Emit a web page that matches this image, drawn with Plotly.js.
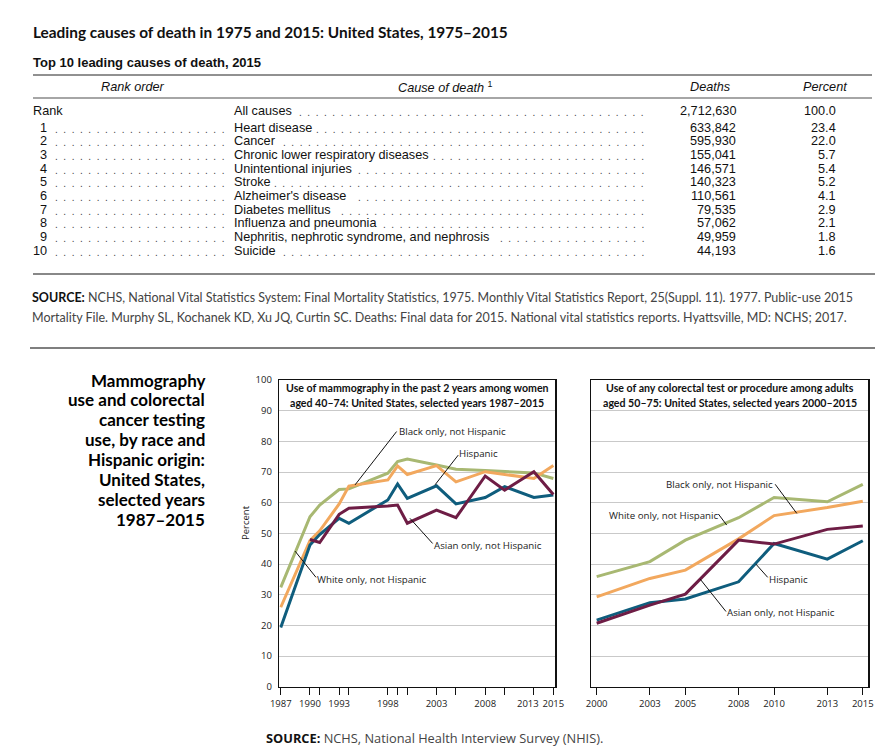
<!DOCTYPE html>
<html>
<head>
<meta charset="utf-8">
<script src="https://cdn.plot.ly/plotly-3.0.1.min.js"></script>
<style>html,body{margin:0;padding:0;background:#fff;}#chart{width:885px;height:750px;}</style>
</head>
<body>
<div id="chart"></div>
<script>
// ---------- DATA ----------
const rankNumbers = [1, 2, 3, 4, 5, 6, 7, 8, 9, 10];
const causes = ['Heart disease', 'Cancer', 'Chronic lower respiratory diseases', 'Unintentional injuries',
  'Stroke', "Alzheimer's disease", 'Diabetes mellitus', 'Influenza and pneumonia',
  'Nephritis, nephrotic syndrome, and nephrosis', 'Suicide'];
const deaths = [633842, 595930, 155041, 146571, 140323, 110561, 79535, 57062, 49959, 44193];
const percents = [23.4, 22.0, 5.7, 5.4, 5.2, 4.1, 2.9, 2.1, 1.8, 1.6];
const allCausesDeaths = 2712630;
const allCausesPercent = 100.0;

const mammoYears = [1987, 1990, 1991, 1993, 1994, 1998, 1999, 2000, 2003, 2005, 2008, 2010, 2013, 2015];
const mammoLabelYears = [1987, 1990, 1993, 1998, 2003, 2008, 2015];
const mammoShiftedLabelYears = [2013];
const mammoWhite = [32.4, 55.4, 59.2, 64.3, 64.5, 69.6, 73.4, 74.2, 72.3, 70.9, 70.5, 70.1, 69.7, 67.9];
const mammoBlack = [25.9, 47.6, 50.8, 59.6, 65.4, 67.4, 72.0, 69.2, 72.1, 66.8, 70.1, 69.2, 67.9, 72.1];
const mammoHispanic = [19.3, 46.2, 49.6, 54.9, 53.3, 60.9, 66.1, 61.4, 65.5, 59.6, 61.7, 65.2, 61.7, 62.5];
const mammoAsian = [null, 48.0, 47.0, 56.2, 58.2, 58.9, 59.2, 53.3, 57.6, 55.1, 68.7, 64.1, 70.1, 62.7];

const crcYears = [2000, 2003, 2005, 2008, 2010, 2013, 2015];
const crcWhite = [35.9, 40.8, 47.8, 55.1, 61.7, 60.3, 66.0];
const crcBlack = [29.3, 35.3, 38.0, 48.2, 55.8, 58.4, 60.5];
const crcHispanic = [21.7, 27.4, 28.6, 34.2, 46.7, 41.6, 47.6];
const crcAsian = [20.7, 26.6, 30.2, 47.8, 46.5, 51.3, 52.4];

const yTicks = [0, 10, 20, 30, 40, 50, 60, 70, 80, 90, 100];

// ---------- STYLE ----------
const W = 885, H = 750;
const px = x => x / W;
const py = y => 1 - y / H;
const HUM = "Lato, 'Open Sans', sans-serif";
const SANS = "'Liberation Sans', Arial, sans-serif";
const OPEN = "'Open Sans', sans-serif";
const C_WHITE = '#a8b872', C_BLACK = '#f2a85e', C_HISP = '#0f5d7d', C_ASIAN = '#6e1d45';
const TABLE_SIZE = 12.7;

const annotations = [];
const shapes = [];
function pa(x, y, text, o) {
  annotations.push(Object.assign({xref: 'paper', yref: 'paper', x: px(x), y: py(y), text: text,
    showarrow: false, xanchor: 'left', yanchor: 'middle', borderpad: 0, borderwidth: 0,
    font: {family: SANS, size: TABLE_SIZE, color: '#111'}}, o || {}));
}
function hline(y, x0, x1, color, width) {
  shapes.push({type: 'line', xref: 'paper', yref: 'paper', x0: px(x0), x1: px(x1), y0: py(y), y1: py(y),
    line: {color: color, width: width}});
}
// dot leaders: font 10px Liberation Sans, "." + 2 nbsp => 8.34 px per dot
const DOT_SIZE = 10, DOT_UNIT = 0.278 * DOT_SIZE;
function dots(n) { return Array(n).fill('.').join('\u00a0\u00a0'); }
const ctx = document.createElement('canvas').getContext('2d');
ctx.font = TABLE_SIZE + 'px "Liberation Sans"';
function leaderCount(textStart, text, rightEdge) {
  const end = textStart + ctx.measureText(text).width + 3;
  return Math.max(0, Math.floor(((rightEdge - end) / DOT_UNIT + 2) / 3));
}
const dotFont = {family: SANS, size: DOT_SIZE, color: '#444'};

// ---------- TOP TABLE ----------
pa(33, 32, '<b>Leading causes of death in 1975 and 2015: United States, 1975\u20132015</b>',
  {font: {family: HUM, size: 15.4, color: '#111'}});
pa(33, 62, '<b>Top 10 leading causes of death, 2015</b>', {font: {family: SANS, size: 13, color: '#111'}});
hline(75, 33, 872, '#222', 1);
pa(133, 87, '<i>Rank order</i>', {xanchor: 'center'});
pa(445, 87, '<i>Cause of death</i> <sup>1</sup>', {xanchor: 'center'});
pa(710, 87, '<i>Deaths</i>', {xanchor: 'center'});
pa(825, 87, '<i>Percent</i>', {xanchor: 'center'});
hline(98, 33, 872, '#888', 1.5);

const rowY0 = 110.7, rowY1 = 127.7, rowStep = 13.68;
const NAME_X = 234, CAUSE_DOT_END = 644, RANK_DOT_END = 224;
pa(33, rowY0, 'Rank');
pa(NAME_X, rowY0, 'All causes');
pa(CAUSE_DOT_END, rowY0 + 1.5, dots(leaderCount(NAME_X, 'All causes', CAUSE_DOT_END)), {xanchor: 'right', font: dotFont});
pa(736, rowY0, allCausesDeaths.toLocaleString('en-US'), {xanchor: 'right'});
pa(836, rowY0, allCausesPercent.toFixed(1), {xanchor: 'right'});
rankNumbers.forEach((r, i) => {
  const y = rowY1 + rowStep * i;
  pa(47, y, String(r), {xanchor: 'right'});
  pa(RANK_DOT_END, y + 1.5, dots(21), {xanchor: 'right', font: dotFont});
  pa(NAME_X, y, causes[i]);
  pa(CAUSE_DOT_END, y + 1.5, dots(leaderCount(NAME_X, causes[i], CAUSE_DOT_END)), {xanchor: 'right', font: dotFont});
  pa(736, y, deaths[i].toLocaleString('en-US'), {xanchor: 'right'});
  pa(836, y, percents[i].toFixed(1), {xanchor: 'right'});
});
hline(274, 33, 875, '#888', 2);
pa(32, 297, '<b>SOURCE:</b><span style="color:#444"> NCHS, National Vital Statistics System: Final Mortality Statistics, 1975. Monthly Vital Statistics Report, 25(Suppl. 11). 1977. Public-use 2015</span>',
  {font: {family: HUM, size: 12.5, color: '#111'}});
pa(32, 317, 'Mortality File. Murphy SL, Kochanek KD, Xu JQ, Curtin SC. Deaths: Final data for 2015. National vital statistics reports. Hyattsville, MD: NCHS; 2017.',
  {font: {family: HUM, size: 12.5, color: '#444'}});
hline(348, 30, 875, '#555', 1.5);

// ---------- LEFT TITLE BLOCK ----------
const blockLines = ['Mammography', 'use and colorectal', 'cancer testing', 'use, by race and',
  'Hispanic origin:', 'United States,', 'selected years', '1987\u20132015'];
blockLines.forEach((t, i) => {
  pa(205, 380 + 19.9 * i, '<b>' + t + '</b>', {xanchor: 'right', font: {family: HUM, size: 17, color: '#000'}});
});

// ---------- CHART TEXT ----------
const subFont = {family: HUM, size: 10.6, color: '#111'};
pa(417, 388, '<b>Use of mammography in the past 2 years among women</b>', {xanchor: 'center', font: subFont});
pa(417, 402.7, '<b>aged 40\u201374: United States, selected years 1987\u20132015</b>', {xanchor: 'center', font: subFont});
pa(729.7, 388, '<b>Use of any colorectal test or procedure among adults</b>', {xanchor: 'center', font: subFont});
pa(729.7, 402.7, '<b>aged 50\u201375: United States, selected years 2000\u20132015</b>', {xanchor: 'center', font: subFont});
pa(245, 523, 'Percent', {xanchor: 'center', textangle: -90, font: {family: OPEN, size: 9.5, color: '#222'}});
pa(266, 738, '<b>SOURCE:</b><span style="color:#444"> NCHS, National Health Interview Survey (NHIS).</span>',
  {font: {family: OPEN, size: 12.8, color: '#111'}});

const tickFont = {family: OPEN, size: 9.5, color: '#222'};
// the 2013 tick label sits just left of its tick (so it clears 2015), as in the original
mammoShiftedLabelYears.forEach(yr => {
  annotations.push({xref: 'x', yref: 'paper', x: yr, y: py(703.5), xshift: -6, text: String(yr),
    showarrow: false, xanchor: 'center', yanchor: 'middle', font: tickFont, borderpad: 0, borderwidth: 0});
});

const labFont = {family: OPEN, size: 9.7, color: '#222'};
function la(xr, yr, x, y, text, anchor) {
  annotations.push({xref: xr, yref: yr, x: x, y: y, text: text, showarrow: false,
    xanchor: anchor, yanchor: 'middle', font: labFont, borderpad: 0, borderwidth: 0});
}
function pointer(xr, yr, x0, y0, x1, y1) {
  shapes.push({type: 'line', xref: xr, yref: yr, x0: x0, y0: y0, x1: x1, y1: y1, line: {color: '#111', width: 1}});
}
// left chart labels
la('x', 'y', 1999.1, 83.1, 'Black only, not Hispanic', 'left');
pointer('x', 'y', 1998.9, 83.2, 1994.63, 65.8);
la('x', 'y', 2005.35, 75.9, 'Hispanic', 'left');
pointer('x', 'y', 2005.23, 75.5, 2002.84, 65.8);
la('x', 'y', 2002.7, 46.2, 'Asian only, not Hispanic', 'left');
pointer('x', 'y', 2002.6, 46.7, 2000.27, 54.9);
la('x', 'y', 1990.75, 35.0, 'White only, not Hispanic', 'left');
pointer('x', 'y', 1990.62, 35.65, 1988.47, 44.2);
// right chart labels
la('x2', 'y2', 2009.95, 66.0, 'Black only, not Hispanic', 'right');
pointer('x2', 'y2', 2010.06, 66.0, 2011.28, 56.5);
la('x2', 'y2', 2006.82, 55.9, 'White only, not Hispanic', 'right');
pointer('x2', 'y2', 2006.86, 56.3, 2007.33, 52.7);
la('x2', 'y2', 2009.7, 34.8, 'Hispanic', 'left');
pointer('x2', 'y2', 2009.64, 35.65, 2008.97, 40.0);
la('x2', 'y2', 2007.35, 24.1, 'Asian only, not Hispanic', 'left');
pointer('x2', 'y2', 2007.29, 24.5, 2005.83, 35.1);

// ---------- TRACES ----------
function tr(x, y, color, xa, ya, name) {
  return {type: 'scatter', mode: 'lines', x: x, y: y, name: name, xaxis: xa, yaxis: ya,
    line: {color: color, width: 3}, connectgaps: false, hoverinfo: 'skip'};
}
const data = [
  tr(mammoYears, mammoWhite, C_WHITE, 'x', 'y', 'White only, not Hispanic'),
  tr(mammoYears, mammoBlack, C_BLACK, 'x', 'y', 'Black only, not Hispanic'),
  tr(mammoYears, mammoHispanic, C_HISP, 'x', 'y', 'Hispanic'),
  tr(mammoYears, mammoAsian, C_ASIAN, 'x', 'y', 'Asian only, not Hispanic'),
  tr(crcYears, crcWhite, C_WHITE, 'x2', 'y2', 'White only, not Hispanic'),
  tr(crcYears, crcBlack, C_BLACK, 'x2', 'y2', 'Black only, not Hispanic'),
  tr(crcYears, crcHispanic, C_HISP, 'x2', 'y2', 'Hispanic'),
  tr(crcYears, crcAsian, C_ASIAN, 'x2', 'y2', 'Asian only, not Hispanic')
];

const xCommon = {showline: true, mirror: true, linecolor: '#111', linewidth: 1.5, showgrid: false,
  zeroline: false, ticks: 'outside', ticklen: 7, tickwidth: 1, tickcolor: '#111', tickfont: tickFont,
  tickangle: 0, fixedrange: true, tickmode: 'array'};
const yCommon = {range: [0, 100], tickvals: yTicks, tickmode: 'array', showgrid: true, gridcolor: '#c9c9c9', gridwidth: 1,
  showline: true, mirror: true, linecolor: '#111', linewidth: 1.5, zeroline: false, ticks: '',
  tickfont: tickFont, fixedrange: true};

const layout = {
  width: W, height: H, margin: {l: 0, r: 0, t: 0, b: 0}, paper_bgcolor: '#fff', plot_bgcolor: '#fff',
  showlegend: false,
  xaxis: Object.assign({}, xCommon, {domain: [px(279.3), px(555)], range: [1986.85, 2015.17],
    tickvals: mammoLabelYears, ticktext: mammoLabelYears.map(String), anchor: 'y',
    minor: {tickmode: 'array', tickvals: mammoYears, ticks: 'outside', ticklen: 7, tickwidth: 1,
      tickcolor: '#111', showgrid: false}}),
  yaxis: Object.assign({}, yCommon, {domain: [py(686.7), py(380)], anchor: 'x', ticklabelstandoff: 4}),
  xaxis2: Object.assign({}, xCommon, {domain: [px(591), px(868.3)], range: [1999.68, 2015.31],
    tickvals: crcYears, ticktext: crcYears.map(String), anchor: 'y2'}),
  yaxis2: Object.assign({}, yCommon, {domain: [py(686.7), py(380)], anchor: 'x2', showticklabels: false}),
  annotations: annotations,
  shapes: shapes
};

Plotly.newPlot('chart', data, layout, {displayModeBar: false, staticPlot: true});
</script>
</body>
</html>
